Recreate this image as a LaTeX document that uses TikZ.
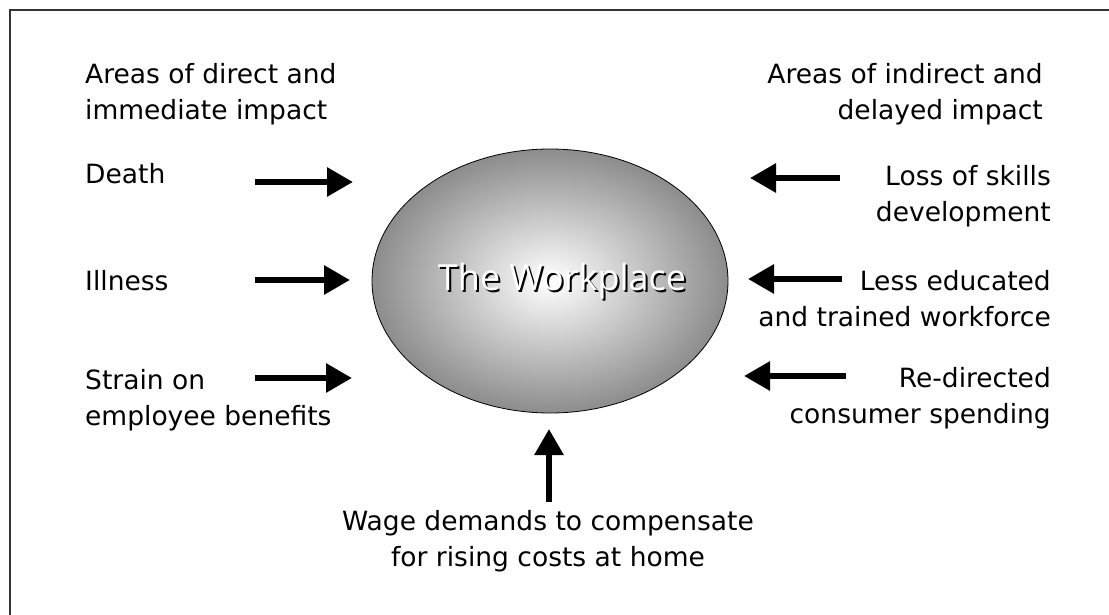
\documentclass[tikz,border=0pt]{standalone}
\usepackage{fontspec}
\setmainfont{DejaVu Sans}
\newfontfamily\titlefont{Open Sans}
\usetikzlibrary{arrows.meta,shapes.geometric}

\tikzset{
  impact/.style={line width=6pt, -{Triangle[length=26pt,width=28pt]}},
  lefttext/.style={anchor=base west, align=left, inner sep=0pt},
  righttext/.style={anchor=base east, align=right, inner sep=0pt}
}

\begin{document}
\begin{tikzpicture}[x=1pt,y=-1pt,font=\fontsize{26.5}{36}\selectfont]
  \useasboundingbox (0,0) rectangle (1109,615);
  % Rahmen (nur oben und links)
  \draw[line width=2pt, black!80] (9.5,615) -- (9.5,10.5) -- (1109,10.5);

  % Ellipse in der Mitte
  \node[draw, ellipse, shade, inner color=white, outer color=black!45,
        minimum width=356pt, minimum height=264pt, line width=0.8pt]
        (workplace) at (550,281) {};
  \node[anchor=base, inner sep=0pt, text=black, font=\titlefont\fontsize{36}{40}\selectfont]
        (workplaceshadow) at (564,292) {The Workplace};
  \node[anchor=base, inner sep=0pt, text=white, font=\titlefont\fontsize{36}{40}\selectfont]
        (workplacetext) at (562,290) {The Workplace};

  % direkte Auswirkungen (links), Basislinie = letzte Zeile
  \node[lefttext] (headdirect) at (85,120) {Areas of direct and\\immediate impact};
  \node[lefttext] (death) at (85,183) {Death};
  \node[lefttext] (illness) at (85,290) {Illness};
  \node[lefttext] (strain) at (85,425) {Strain on\\employee benefits};
  \foreach \n/\y/\a/\b in {death/182/255/353, illness/280/255/350, strain/378/255/352} {
    \coordinate (\n-from) at (\a,\y);
    \coordinate (\n-to) at (\b,\y);
    \draw[impact] (\n-from) -- (\n-to);
  }

  % indirekte Auswirkungen (rechts)
  \node[righttext] (headindirect) at (1043,120) {Areas of indirect and\\delayed impact};
  \node[righttext] (skills) at (1051,222) {Loss of skills\\development};
  \node[righttext] (educated) at (1051,326) {Less educated\\and trained workforce};
  \node[righttext] (spending) at (1051,423) {Re-directed\\consumer spending};
  \foreach \n/\y/\a/\b in {skills/178/840/750, educated/279/842/748, spending/376/846/744} {
    \coordinate (\n-from) at (\a,\y);
    \coordinate (\n-to) at (\b,\y);
    \draw[impact] (\n-from) -- (\n-to);
  }

  % unten
  \node[anchor=base, align=center, inner sep=0pt] (wage) at (548,566)
        {Wage demands to compensate\\for rising costs at home};
  \coordinate (wage-from) at (549,502);
  \coordinate (wage-to) at (549,429);
  \draw[impact] (wage-from) -- (wage-to);
\end{tikzpicture}
\end{document}
